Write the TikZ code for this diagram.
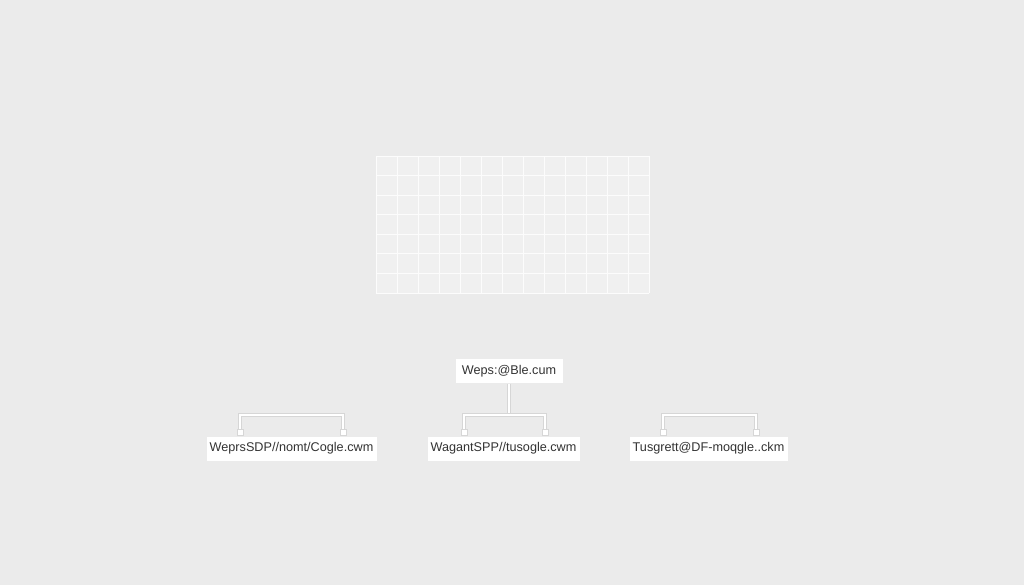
\documentclass[tikz,border=0pt]{standalone}
\usepackage{fontspec}
\setmainfont{Liberation Sans}
\usetikzlibrary{calc}
\definecolor{bg}{HTML}{EBEBEB}
\definecolor{ink}{HTML}{333333}
\tikzset{
    addr/.style={draw=black!8, fill=white, text=ink, inner sep=0pt, minimum height=0.75cm, font=\fontsize{10.8}{13}\selectfont},
    wire/.style={draw=black!16, line width=0.9pt, double=white, double distance=0.9pt},
    pin/.style={draw=black!16, fill=white, line width=0.4pt, minimum size=0.18cm, inner sep=0pt},
}
\begin{document}
\begin{tikzpicture}[x=0.03cm, y=-0.03cm]
        \useasboundingbox [fill=bg] (0,0) rectangle (1024,585);
        % grid
        \fill [white!25!bg] (376,156) rectangle (649,293);
        \foreach \i in {0,...,13}
            \draw [white!85!bg, line width=0.8pt] ({376+\i*21},156) -- ({376+\i*21},293);
        \foreach \j in {0,...,7}
            \draw [white!85!bg, line width=0.8pt] (376,{156+\j*19.57}) -- (649,{156+\j*19.57});
        % address boxes
        \draw (509,371) node [addr,minimum width=3.24cm,name=top] {Weps:@Ble.cum};
        \draw (291.5,448.5) node [addr,minimum width=5.13cm,name=left] {WeprsSDP//nomt/Cogle.cwm};
        \draw (503.5,448.5) node [addr,minimum width=4.59cm,name=mid] {WagantSPP//tusogle.cwm};
        \draw (708.5,448.5) node [addr,minimum width=4.77cm,name=right] {Tusgrett@DF-moqgle..ckm};
        % bracket corners
        \coordinate (l1) at (240,415);
        \coordinate (l2) at (343,415);
        \coordinate (m1) at (464,415);
        \coordinate (m2) at (545,415);
        \coordinate (mt) at (509,415);
        \coordinate (r1) at (663,415);
        \coordinate (r2) at (756,415);
        \draw [wire] (top.south -| mt) -- (mt);
        \draw [wire] (l1 |- left.north) -- (l1) -- (l2) -- (l2 |- left.north);
        \draw [wire] (m1 |- mid.north) -- (m1) -- (m2) -- (m2 |- mid.north);
        \draw [wire] (r1 |- right.north) -- (r1) -- (r2) -- (r2 |- right.north);
        \foreach \c/\n in {l1/left, l2/left, m1/mid, m2/mid, r1/right, r2/right}
            \node [pin, anchor=south] at (\c |- \n.north) {};
    \end{tikzpicture}
\end{document}
